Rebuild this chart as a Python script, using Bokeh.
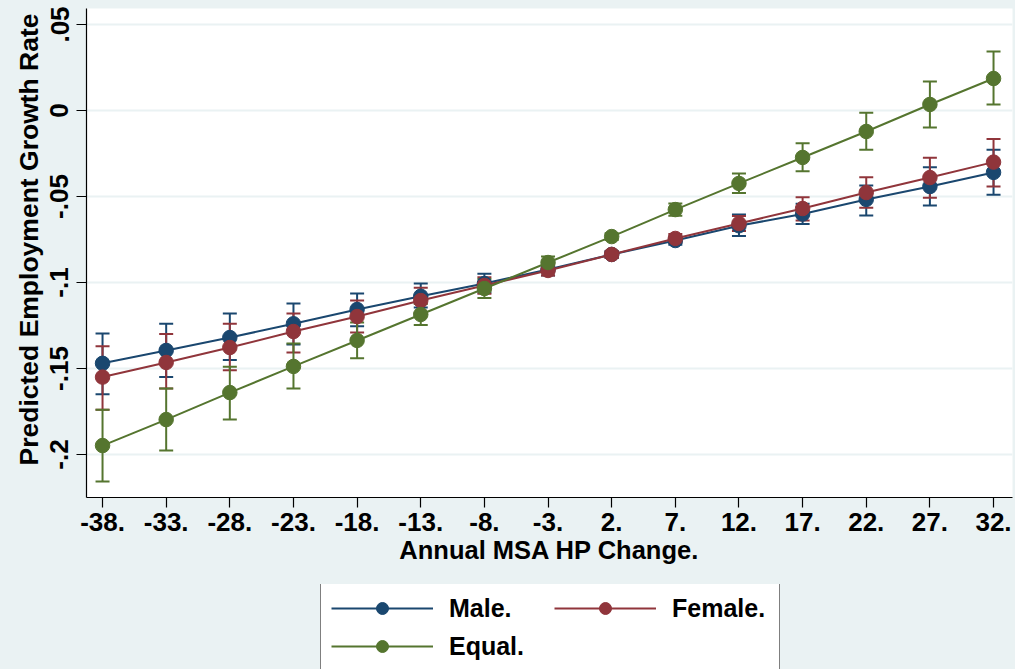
from bokeh.plotting import figure
from bokeh.models import Range1d, FixedTicker, Legend, LegendItem, Title
from bokeh.layouts import column
from bokeh.embed import file_html
from bokeh.resources import INLINE

# ---- data ----
hp_change = [-38, -33, -28, -23, -18, -13, -8, -3, 2, 7, 12, 17, 22, 27, 32]

male = [-0.147, -0.1395, -0.132, -0.124, -0.1157, -0.108, -0.1006, -0.0924,
        -0.0837, -0.0756, -0.067, -0.0602, -0.0517, -0.0442, -0.036]
male_lo = [-0.165, -0.155, -0.145, -0.136, -0.1255, -0.1145, -0.1058, -0.096,
           -0.0858, -0.078, -0.073, -0.066, -0.061, -0.0552, -0.049]
male_hi = [-0.1297, -0.124, -0.118, -0.1122, -0.1064, -0.1006, -0.0949, -0.0888,
           -0.0817, -0.0732, -0.0605, -0.0542, -0.0436, -0.033, -0.0228]

female = [-0.155, -0.1465, -0.1378, -0.1285, -0.1198, -0.1105, -0.1017, -0.093,
          -0.0837, -0.0744, -0.0657, -0.057, -0.0477, -0.039, -0.030]
female_lo = [-0.174, -0.1616, -0.151, -0.1407, -0.129, -0.118, -0.1065, -0.096,
             -0.0857, -0.077, -0.070, -0.064, -0.0566, -0.0507, -0.0442]
female_hi = [-0.137, -0.130, -0.124, -0.118, -0.1105, -0.103, -0.097, -0.090,
             -0.0817, -0.0718, -0.0613, -0.0504, -0.0388, -0.0275, -0.0165]

equal = [-0.1948, -0.1797, -0.164, -0.1488, -0.1337, -0.1186, -0.1035, -0.0884,
         -0.0733, -0.0576, -0.0424, -0.0273, -0.0122, 0.0035, 0.0186]
equal_lo = [-0.2157, -0.1977, -0.1797, -0.1616, -0.144, -0.1247, -0.109, -0.092,
            -0.0753, -0.0612, -0.048, -0.0353, -0.0228, -0.0099, 0.0035]
equal_hi = [-0.174, -0.1616, -0.149, -0.1355, -0.1233, -0.1125, -0.098, -0.0849,
            -0.0713, -0.054, -0.0366, -0.019, -0.0013, 0.0169, 0.0343]

y_ticks = [-0.2, -0.15, -0.1, -0.05, 0.0, 0.05]
y_tick_labels = ["-.2", "-.15", "-.1", "-.05", "0", ".05"]
x_tick_labels = [f"{v}." for v in hp_change]

series_names = ["Male.", "Female.", "Equal."]
series_colors = ["#1a476f", "#90353b", "#55752f"]

FONT = "Liberation Sans"
BG = "#eaf2f3"

# ---------------- main plot ----------------
p = figure(width=1015, height=584, output_backend="svg", toolbar_location=None,
           title=None,
           x_range=Range1d(-39.26, 33.49), y_range=Range1d(-0.225, 0.0593),
           min_border_left=86, min_border_right=3, min_border_top=8,
           min_border_bottom=87)
p.background_fill_color = "white"
p.border_fill_color = BG
p.outline_line_color = None

p.xgrid.visible = False
p.ygrid.ticker = FixedTicker(ticks=y_ticks)
p.ygrid.grid_line_color = BG
p.ygrid.grid_line_width = 2

for ax in (p.xaxis[0], p.yaxis[0]):
    ax.axis_line_color = "black"
    ax.axis_line_width = 1.2
    ax.major_tick_line_color = "black"
    ax.major_tick_line_width = 1.2
    ax.major_tick_out = 10
    ax.major_tick_in = 0
    ax.minor_tick_line_color = None
    ax.major_label_text_font = FONT
    ax.major_label_text_font_size = "26px"
    ax.major_label_text_font_style = "bold"
    ax.major_label_text_color = "black"
    ax.axis_label_text_font = FONT
    ax.axis_label_text_font_style = "bold"
    ax.axis_label_text_color = "black"

p.xaxis.ticker = FixedTicker(ticks=hp_change)
p.xaxis.major_label_overrides = {v: l for v, l in zip(hp_change, x_tick_labels)}
p.xaxis.axis_label = "Annual MSA HP Change."
p.xaxis.axis_label_text_font_size = "25.5px"
p.xaxis.major_label_standoff = 5
p.xaxis.axis_label_standoff = 2

p.yaxis.ticker = FixedTicker(ticks=y_ticks)
p.yaxis.major_label_overrides = {v: l for v, l in zip(y_ticks, y_tick_labels)}
p.yaxis.major_label_orientation = "vertical"
p.yaxis.major_label_standoff = 8

# y-axis title as a side title so it can sit slightly above the frame centre
p.add_layout(Title(text="Predicted Employment Growth Rate", align="left", offset=32,
                   standoff=8, text_font=FONT, text_font_size="26.5px",
                   text_font_style="bold", text_color="black"), "left")

los = [male_lo, female_lo, equal_lo]
his = [male_hi, female_hi, equal_hi]
vals = [male, female, equal]

# confidence intervals first (drawn under the connected lines)
for lo, hi, c in zip(los, his, series_colors):
    p.segment(x0=hp_change, y0=lo, x1=hp_change, y1=hi, line_color=c, line_width=2)
    p.scatter(x=hp_change, y=lo, marker="dash", size=14, line_color=c, line_width=2)
    p.scatter(x=hp_change, y=hi, marker="dash", size=14, line_color=c, line_width=2)

for v, c in zip(vals, series_colors):
    p.line(x=hp_change, y=v, line_color=c, line_width=2)
    p.scatter(x=hp_change, y=v, marker="circle", size=14.5, fill_color=c, line_color=c)

# ---------------- legend strip ----------------
# The strip's ranges lie far from the data, so its copies of the series stay
# out of view and only serve as legend samples.
q = figure(width=1015, height=85, output_backend="svg", toolbar_location=None,
           title=None, x_axis_location=None, y_axis_location=None,
           x_range=Range1d(1000, 1001), y_range=Range1d(1000, 1001),
           min_border=0)
q.background_fill_alpha = 0
q.border_fill_color = BG
q.outline_line_color = None
q.grid.visible = False

items = []
for v, c, n in zip(vals, series_colors, series_names):
    ln = q.line(x=hp_change, y=v, line_color=c, line_width=2)
    sc = q.scatter(x=hp_change, y=v, marker="circle", size=14, fill_color=c, line_color=c)
    items.append(LegendItem(label=n, renderers=[ln, sc]))

legend = Legend(items=items, location=(234, -3), orientation="horizontal", ncols=2,
                glyph_width=102, glyph_height=30, label_standoff=16, spacing=8,
                label_width=97, padding=10, margin=0,
                border_line_color="black", border_line_width=1,
                background_fill_color="white", background_fill_alpha=1,
                label_text_font=FONT, label_text_font_size="25px",
                label_text_font_style="bold", label_text_color="black")
q.add_layout(legend, "center")

layout = column(p, q, spacing=0, styles={"background-color": BG})
open("out.html", "w").write(file_html(layout, INLINE))
